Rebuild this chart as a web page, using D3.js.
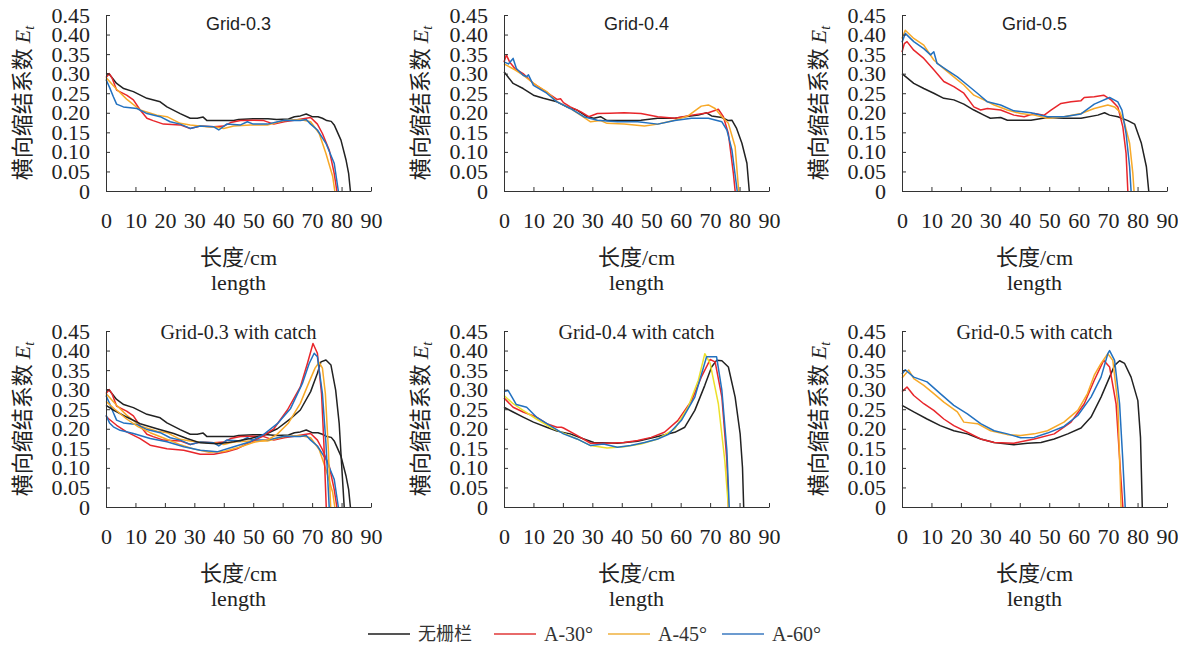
<!DOCTYPE html>
<html>
<head>
<meta charset="utf-8">
<script src="https://cdn.jsdelivr.net/npm/d3@7"></script>
<style>
  body { margin: 0; background: #fff; }
  svg { display: block; }
</style>
</head>
<body>
<svg id="svg" width="1178" height="652"></svg>
<script>
const svg = d3.select("#svg");

const xTicks = d3.range(0, 91, 10);
const yTicks = [0, 0.05, 0.1, 0.15, 0.2, 0.25, 0.3, 0.35, 0.4, 0.45];
const seriesNames = ["无栅栏", "A-30°", "A-45°", "A-60°"];

// Grid-0.3 (no catch) : [length cm, Et]
const g3_none = [[0,.299],[1,.3],[3.6,.275],[6,.262],[9.3,.254],[13.9,.237],[18.4,.228],[20.7,.215],[25.2,.198],[28.6,.186],[31,.186],[33,.189],[34.3,.18],[40,.18],[43.4,.18],[45,.183],[50,.185],[55,.185],[58,.183],[62,.184],[64,.19],[66,.192],[68,.197],[70,.19],[72,.19],[73.5,.186],[75,.18],[76.5,.178],[77.5,.169],[79.8,.13],[81.5,.08],[82.4,.045],[83,0]];
const g3_a30 = [[0,.29],[1.1,.3],[2,.29],[3.6,.258],[7,.245],[9.3,.233],[11.6,.207],[13.9,.186],[16,.18],[19.5,.171],[25.2,.169],[28.6,.16],[32,.166],[36.6,.164],[40,.166],[42.3,.175],[45.7,.18],[50,.181],[53.6,.18],[57,.171],[60.5,.177],[63.9,.181],[69.5,.188],[71.8,.171],[73.5,.147],[75.8,.105],[77.5,.045],[78.4,0]];
const g3_a45 = [[0,.29],[3.6,.26],[7,.235],[11.6,.207],[17.3,.194],[20.7,.19],[25.2,.173],[28.6,.169],[34.3,.164],[37.7,.163],[40,.16],[43.4,.166],[49,.169],[54.8,.169],[60.5,.18],[66,.183],[69.5,.177],[72.4,.147],[74.7,.096],[77,.037],[77.7,0]];
const g3_a60 = [[0,.285],[1.2,.265],[2.5,.241],[3.6,.222],[5.9,.215],[10.5,.211],[13.9,.198],[18.4,.19],[21.8,.177],[25.2,.171],[28.6,.16],[32,.166],[36.6,.164],[38.3,.156],[41,.171],[45.7,.169],[48,.177],[50,.171],[54.8,.171],[60.5,.181],[66,.18],[68,.183],[69.5,.171],[71.8,.156],[74.7,.122],[77.5,.071],[78.9,0]];

// Grid-0.4
const g4_none = [[0,.305],[3.1,.275],[6.5,.262],[10,.245],[13.4,.237],[18,.228],[21.4,.215],[24.8,.207],[28.2,.19],[30.5,.186],[32.8,.19],[35,.18],[40.8,.18],[46.5,.181],[52.2,.186],[58,.186],[61.4,.19],[66,.194],[68.8,.2],[70.5,.192],[74,.188],[76.2,.18],[77.4,.181],[79,.16],[80.8,.122],[82.5,.071],[83.3,0]];
const g4_a30 = [[0,.33],[0.8,.348],[1.9,.33],[3.7,.313],[6.5,.3],[10,.275],[13.4,.258],[18,.234],[19.2,.236],[20.2,.226],[22.5,.215],[26,.203],[28.8,.19],[31.7,.198],[36,.199],[40.8,.2],[46.5,.198],[52.2,.19],[58,.186],[63.7,.194],[69.4,.2],[72.8,.209],[74.5,.19],[76.2,.147],[77.9,.045],[78.5,0]];
const g4_a45 = [[0,.325],[3.7,.31],[6.5,.296],[11,.27],[14.5,.254],[18,.228],[22.5,.211],[26,.194],[29.4,.177],[32.8,.18],[35,.173],[40.8,.171],[47.7,.166],[52.2,.171],[58,.181],[62.5,.192],[67,.217],[69.4,.22],[71.7,.211],[74,.19],[76.2,.173],[78.5,.113],[79.7,0]];
const g4_a60 = [[0,.33],[1.5,.325],[3.1,.339],[4.2,.313],[6.5,.296],[7.7,.292],[8.3,.297],[10,.27],[14.5,.25],[18,.228],[22.5,.211],[27.1,.19],[31.7,.181],[38.5,.177],[45.4,.177],[52.2,.171],[58,.18],[63.7,.186],[69.4,.186],[74,.177],[75.7,.156],[77.4,.105],[79.2,0]];

// Grid-0.5
const g5_none = [[0,.3],[4,.275],[7.4,.262],[10.8,.25],[14.2,.237],[17.6,.233],[21,.222],[24.4,.207],[27.8,.194],[30,.186],[33.5,.188],[35.8,.181],[43.8,.181],[49.4,.188],[55,.186],[60.8,.186],[66.5,.194],[68.8,.2],[70.5,.194],[73.3,.19],[76.7,.18],[79,.171],[81.3,.122],[83,.062],[83.8,0]];
const g5_a30 = [[0,.355],[0.8,.377],[1.7,.382],[4,.36],[7.4,.339],[10.8,.31],[14.2,.28],[17.6,.267],[21,.25],[24.4,.215],[26.7,.207],[29,.211],[33.5,.207],[38,.194],[41.5,.19],[44.9,.198],[48.3,.194],[50.6,.207],[54,.224],[57.4,.228],[60.8,.231],[61.9,.239],[65.3,.241],[68.5,.245],[71,.233],[73.3,.215],[75,.164],[76.1,.096],[76.7,0]];
const g5_a45 = [[0,.39],[1.1,.411],[4,.39],[7.4,.373],[10.8,.335],[14.2,.313],[17.6,.292],[21,.271],[24.4,.245],[27.8,.233],[31.3,.22],[35.8,.207],[40.3,.198],[44.9,.194],[49.4,.186],[55,.19],[60.8,.198],[65.3,.211],[69.9,.22],[72.2,.215],[73.9,.203],[75.6,.173],[77.3,.122],[78.4,.045],[78.8,0]];
const g5_a60 = [[0,.38],[1.1,.403],[4,.382],[7.4,.364],[9.7,.348],[10.8,.356],[11.9,.326],[15.3,.309],[18.8,.292],[22.2,.271],[25.6,.25],[29,.228],[33.5,.22],[38,.205],[43.8,.2],[49.4,.19],[55,.19],[60.8,.197],[65.3,.222],[70.5,.239],[73.3,.228],[74.7,.207],[76.1,.147],[77.3,.062],[77.8,0]];

// Grid-0.3 with catch
const g3c_none = [[0,.26],[2.5,.248],[7,.23],[11.6,.213],[17.3,.2],[23,.188],[27.5,.175],[32,.164],[37.7,.162],[43.4,.167],[49,.175],[53.6,.184],[58.2,.2],[62.7,.226],[66,.248],[69.5,.295],[71.8,.342],[73,.371],[74.7,.376],[76.4,.363],[78,.299],[79.2,.213],[80,.111],[80.9,0]];
const g3c_a30 = [[0,.232],[1,.225],[3.6,.209],[7,.192],[11.6,.175],[15,.158],[20.7,.149],[26.4,.145],[32,.135],[36.6,.135],[41,.141],[44.5,.149],[48,.162],[52.5,.178],[57,.2],[61.6,.248],[66,.307],[68.4,.367],[70.3,.418],[71.8,.393],[73.2,.29],[74,.162],[74.8,0]];
const g3c_a45 = [[0,.27],[3,.25],[7,.225],[11,.205],[15,.19],[20,.175],[25,.16],[30,.148],[35,.14],[40,.142],[45,.152],[50,.165],[55,.172],[58,.185],[62,.215],[66,.265],[69,.32],[71,.355],[72.4,.37],[73.5,.355],[74.5,.29],[75.5,.15],[76.3,0]];
const g3c_a60 = [[0,.235],[1.2,.215],[2.5,.205],[4.8,.196],[9.3,.188],[15,.175],[20.7,.167],[26.4,.154],[32,.145],[37.7,.141],[43.4,.154],[49,.167],[53.6,.186],[58.2,.213],[62.7,.252],[66.7,.316],[69,.367],[70.7,.393],[71.8,.384],[73.5,.29],[74.7,.162],[75.8,0]];

// Grid-0.4 with catch
const g4c_none = [[0,.255],[3.1,.243],[6.5,.23],[10,.217],[14.5,.204],[18,.194],[22.5,.187],[27.1,.174],[30.5,.165],[38.5,.163],[45.4,.168],[52.2,.18],[58,.191],[61.4,.204],[64.8,.247],[68.2,.311],[70.5,.358],[72.2,.375],[74,.374],[76.2,.358],[78.5,.281],[80.2,.187],[81,.101],[81.4,0]];
const g4c_a30 = [[0,.279],[3.1,.255],[6.5,.243],[11,.23],[14.5,.213],[18,.204],[19.5,.204],[20.2,.202],[24.8,.183],[29.4,.163],[35,.163],[40.8,.165],[45.4,.17],[50,.178],[54.5,.191],[59,.221],[63.7,.272],[67,.332],[70,.377],[71.7,.371],[74,.281],[75.7,.118],[76.2,0]];
const g4c_a45 = [[0,.285],[3.1,.264],[6.5,.247],[11,.225],[15.7,.204],[20.2,.189],[24.8,.174],[29.4,.157],[35,.151],[40.8,.154],[46.5,.161],[52.2,.174],[58,.2],[62.5,.255],[66,.324],[68.2,.392],[70,.367],[72.8,.264],[75,.118],[76.2,0]];
const g4c_a60 = [[0,.295],[1.4,.298],[4.2,.262],[7.7,.255],[11,.23],[15.7,.208],[20.2,.187],[24.8,.174],[29.4,.157],[33.8,.161],[38.5,.153],[43,.157],[47.7,.165],[52.2,.174],[55.7,.185],[60.2,.221],[64.8,.281],[68.8,.384],[72.2,.384],[74,.298],[75.7,.144],[76.5,0]];

// Grid-0.5 with catch
const g5c_none = [[0,.26],[4,.243],[8.5,.225],[13,.208],[17.6,.195],[22.2,.187],[26.7,.174],[31.3,.165],[38,.159],[42.6,.163],[47.2,.165],[51.7,.174],[56.3,.187],[60.8,.202],[64.2,.23],[67.6,.281],[70.5,.332],[72.2,.362],[73.9,.374],[75.6,.367],[77.8,.332],[80.1,.272],[81,.178],[81.6,0]];
const g5c_a30 = [[0,.295],[1.7,.307],[4,.285],[7.4,.264],[10.8,.247],[14.2,.225],[17.6,.208],[22.2,.191],[26.7,.174],[31.3,.165],[38,.163],[44.9,.174],[51.7,.187],[57.4,.217],[61.9,.264],[65.3,.324],[68.5,.375],[70.5,.358],[72.7,.264],[74.4,.067],[75,0]];
const g5c_a45 = [[0,.33],[2.3,.35],[4,.328],[7.4,.311],[10.8,.29],[14.2,.268],[18.8,.243],[21,.217],[25.6,.213],[30.1,.195],[35.8,.185],[40.3,.183],[44.9,.187],[49.4,.195],[55,.217],[59.7,.247],[63,.29],[65.3,.337],[67.6,.367],[69.9,.392],[71.6,.375],[73.3,.264],[74.4,0]];
const g5c_a60 = [[0,.34],[1.1,.351],[4,.332],[8.5,.32],[13,.29],[17.6,.26],[22.2,.238],[26.7,.213],[31.3,.195],[35.8,.187],[40.3,.177],[44.9,.178],[49.4,.189],[55,.206],[59.7,.234],[64.2,.281],[67.6,.332],[69.9,.392],[70.5,.4],[72.2,.375],[73.9,.264],[75,.118],[75.8,0]];

const colors = ["#222222", "#e8262b", "#f7a928", "#2271c0"];
const legendColors = ["#555555", "#e86a6a", "#f3c46e", "#6c9bd0"];
const yellow = "#ece02a"; // A-45 in the Grid-0.4 with catch panel looks yellow

const plotW = 265;
const plotH = 176;

const panels = [
  { title: "Grid-0.3", serifTitle: false, left: 106, bottom: 191,
    lines: [g3_none, g3_a30, g3_a45, g3_a60] },
  { title: "Grid-0.4", serifTitle: false, left: 504, bottom: 191,
    lines: [g4_none, g4_a30, g4_a45, g4_a60] },
  { title: "Grid-0.5", serifTitle: false, left: 902, bottom: 191,
    lines: [g5_none, g5_a30, g5_a45, g5_a60] },
  // the first "with catch" panel also carries the plain Grid-0.3 curves
  { title: "Grid-0.3 with catch", serifTitle: true, left: 106, bottom: 507,
    lines: [g3_none, g3_a30, g3_a45, g3_a60, g3c_none, g3c_a30, g3c_a45, g3c_a60] },
  { title: "Grid-0.4 with catch", serifTitle: true, left: 504, bottom: 507, yellow: true,
    lines: [g4c_none, g4c_a30, g4c_a45, g4c_a60] },
  { title: "Grid-0.5 with catch", serifTitle: true, left: 902, bottom: 507,
    lines: [g5c_none, g5c_a30, g5c_a45, g5c_a60] },
];

const serif = "'Liberation Serif', 'Times New Roman', serif";
const cjk = "'Noto Sans CJK SC', sans-serif";

panels.forEach((p) => {
  const x = d3.scaleLinear().domain([0, 90]).range([p.left, p.left + plotW]);
  const y = d3.scaleLinear().domain([0, 0.45]).range([p.bottom, p.bottom - plotH]);

  const g = svg.append("g");

  // data lines first, axes drawn on top
  const line = d3.line().x((d) => x(d[0])).y((d) => y(d[1]));
  g.append("g")
    .selectAll("path")
    .data(p.lines)
    .join("path")
    .attr("d", line)
    .attr("fill", "none")
    .attr("stroke", (d, i) => {
      const k = i % 4;
      return p.yellow && k === 2 ? yellow : colors[k];
    })
    .attr("stroke-width", 1.5)
    .attr("stroke-linejoin", "round");

  const xAxis = g.append("g")
    .attr("transform", `translate(0,${p.bottom})`)
    .call(d3.axisBottom(x).tickValues(xTicks).tickSize(-4).tickSizeOuter(0).tickPadding(21));
  const yAxis = g.append("g")
    .attr("transform", `translate(${p.left},0)`)
    .call(d3.axisLeft(y).tickValues(yTicks).tickSize(-4).tickSizeOuter(0).tickPadding(16)
      .tickFormat((d) => (d === 0 ? "0" : d.toFixed(2))));

  [xAxis, yAxis].forEach((a) => {
    a.selectAll("path, line").attr("stroke", "#333");
    a.selectAll("text")
      .style("font-family", serif)
      .style("font-size", "22px")
      .attr("fill", "#222");
  });

  const cx = p.left + plotW / 2;

  // panel title
  g.append("text")
    .attr("x", cx)
    .attr("y", p.bottom - plotH + (p.serifTitle ? 8 : 15))
    .attr("text-anchor", "middle")
    .style("font-family", p.serifTitle ? serif : "'Liberation Sans', Arial, sans-serif")
    .style("font-size", p.serifTitle ? "20px" : "18px")
    .attr("fill", "#222")
    .text(p.title);

  // x axis title, two lines
  const xt = g.append("text")
    .attr("text-anchor", "middle")
    .attr("fill", "#222")
    .style("font-size", "22px");
  xt.append("tspan").attr("x", cx).attr("y", p.bottom + 74)
    .style("font-family", cjk).text("长度");
  xt.append("tspan").style("font-family", serif).text("/cm");
  g.append("text")
    .attr("x", cx)
    .attr("y", p.bottom + 99)
    .attr("text-anchor", "middle")
    .attr("fill", "#222")
    .style("font-family", serif)
    .style("font-size", "22px")
    .text("length");

  // y axis title, rotated
  const yt = g.append("text")
    .attr("transform", `translate(${p.left - 76},${p.bottom - plotH / 2}) rotate(-90)`)
    .attr("text-anchor", "middle")
    .attr("fill", "#222")
    .style("font-size", "22px");
  yt.append("tspan").style("font-family", cjk).text("横向缩结系数 ");
  yt.append("tspan").style("font-family", serif).style("font-style", "italic").text("E");
  yt.append("tspan").style("font-family", serif).style("font-style", "italic")
    .style("font-size", "14px").attr("dy", 4).text("t");
});

// legend
const legendX = [368, 494, 608, 722];
const legend = svg.append("g")
  .selectAll("g")
  .data(seriesNames)
  .join("g")
  .attr("transform", (d, i) => `translate(${legendX[i]},634)`);
legend.append("line")
  .attr("x1", 0).attr("x2", 42)
  .attr("stroke", (d, i) => legendColors[i])
  .attr("stroke-width", 2);
legend.append("text")
  .attr("x", 50)
  .attr("dy", "0.35em")
  .attr("fill", "#333")
  .style("font-family", (d, i) => (i === 0 ? cjk : serif))
  .style("font-size", (d, i) => (i === 0 ? "18px" : "20px"))
  .text((d) => d);
</script>
</body>
</html>
